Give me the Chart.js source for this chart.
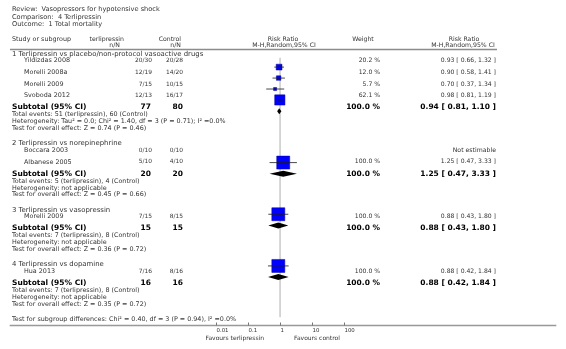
<!DOCTYPE html>
<html>
<head>
<meta charset="utf-8">
<script src="https://cdn.jsdelivr.net/npm/chart.js"></script>
<style>
  html, body { margin: 0; padding: 0; background: #fff; }
</style>
</head>
<body>
<canvas id="forest" width="566" height="349"></canvas>
<script>
// --- data ---
const titleLines = ['Review:  Vasopressors for hypotensive shock', 'Comparison:  4 Terlipressin', 'Outcome:  1 Total mortality'];
const groups = ['1 Terlipressin vs placebo/non-protocol vasoactive drugs', '2 Terlipressin vs norepinephrine', '3 Terlipressin vs vasopressin', '4 Terlipressin vs dopamine'];
const studies = ['Yildizdas 2008', 'Morelli 2008a', 'Morelli 2009', 'Svoboda 2012', 'Boccara 2003', 'Albanese 2005', 'Morelli 2009', 'Hua 2013'];
const studyGroup = [0, 0, 0, 0, 1, 1, 2, 3];
const terliEvents = [20, 12, 7, 12, 0, 5, 7, 7];
const terliTotal = [30, 19, 15, 13, 10, 10, 15, 16];
const ctrlEvents = [20, 14, 10, 16, 0, 4, 8, 8];
const ctrlTotal = [28, 20, 15, 17, 10, 10, 15, 16];
const rr = [0.93, 0.90, 0.70, 0.98, null, 1.25, 0.88, 0.88];
const rrLow = [0.66, 0.58, 0.37, 0.81, null, 0.47, 0.43, 0.42];
const rrHigh = [1.32, 1.41, 1.34, 1.19, null, 3.33, 1.80, 1.84];
const weight = [20.2, 12.0, 5.7, 62.1, null, 100.0, 100.0, 100.0];

const subTerliTotal = [77, 20, 15, 16];
const subCtrlTotal = [80, 20, 15, 16];
const subTerliEvents = [51, 5, 7, 7];
const subCtrlEvents = [60, 4, 8, 8];
const subRR = [0.94, 1.25, 0.88, 0.88];
const subLow = [0.81, 0.47, 0.43, 0.42];
const subHigh = [1.10, 3.33, 1.80, 1.84];
const subWeight = [100.0, 100.0, 100.0, 100.0];
const heterogeneity = ['Tau\u00b2 = 0.0; Chi\u00b2 = 1.40, df = 3 (P = 0.71); I\u00b2 =0.0%', 'not applicable', 'not applicable', 'not applicable'];
const overallEffect = ['Z = 0.74 (P = 0.46)', 'Z = 0.45 (P = 0.66)', 'Z = 0.36 (P = 0.72)', 'Z = 0.35 (P = 0.72)'];
const subgroupTest = 'Test for subgroup differences: Chi\u00b2 = 0.40, df = 3 (P = 0.94), I\u00b2 =0.0%';
const axisTicks = [0.01, 0.1, 1, 10, 100];
const axisTickLabels = ['0.01', '0.1', '1', '10', '100'];
const favours = ['Favours terlipressin', 'Favours control'];

// --- layout ---
const W = 566, H = 349;
const nullPx = 280, decadePx = 33.33;
const axisY = 325.5;
const FONT = '"DejaVu Sans", Verdana, sans-serif';

function layoutRows() {
  const rows = { group: [], study: [], sub: [], notes: [] };
  let y = 54;
  let s = 0;
  for (let g = 0; g < groups.length; g++) {
    rows.group[g] = y;
    y += 6.8;
    let first = true;
    while (s < studies.length && studyGroup[s] === g) {
      if (!first) y += 11.6;
      rows.study[s] = y;
      first = false;
      s++;
    }
    y += 11.8;
    rows.sub[g] = y;
    y += 7.3;
    rows.notes[g] = [y, y + 6.9, y + 13.8];
    y += 13.8 + 15;
  }
  rows.diff = y;
  return rows;
}
const rows = layoutRows();

function fmtCI(v, lo, hi) {
  return v.toFixed(2) + ' [ ' + lo.toFixed(2) + ', ' + hi.toFixed(2) + ' ]';
}

// --- datasets ---
const datasets = [];
// whiskers (top)
studies.forEach((s, i) => {
  if (rr[i] == null) return;
  datasets.push({
    data: [{ x: rrLow[i], y: rows.study[i] }, { x: rrHigh[i], y: rows.study[i] }],
    showLine: true, borderColor: '#1a1a1a', borderWidth: 0.8, pointRadius: 0, order: 0
  });
});
// squares, area ~ weight
const squarePts = [], squareR = [];
studies.forEach((s, i) => {
  if (rr[i] == null) return;
  squarePts.push({ x: rr[i], y: rows.study[i] });
  const side = 13 * Math.sqrt(weight[i] / 100);
  squareR.push(side / Math.SQRT2);
});
datasets.push({
  data: squarePts, pointStyle: 'rect', pointRadius: squareR,
  backgroundColor: '#0000ff', borderColor: '#000090', borderWidth: 0.5, order: 1
});
// line of no effect
datasets.push({
  data: [{ x: 1, y: 51 }, { x: 1, y: axisY }],
  showLine: true, borderColor: '#d0d0d0', borderWidth: 1, pointRadius: 0, order: 2
});

const forestPlugin = {
  id: 'forest',
  afterDatasetsDraw(chart) {
    const ctx = chart.ctx;
    const xs = chart.scales.x, ys = chart.scales.y;
    const px = v => xs.getPixelForValue(v);
    const py = v => ys.getPixelForValue(v);
    ctx.save();

    // diamonds for subtotals
    ctx.fillStyle = '#000';
    subRR.forEach((v, g) => {
      const y = py(rows.sub[g]);
      ctx.beginPath();
      ctx.moveTo(px(subLow[g]), y);
      ctx.lineTo(px(v), y - 3);
      ctx.lineTo(px(subHigh[g]), y);
      ctx.lineTo(px(v), y + 3);
      ctx.closePath();
      ctx.fill();
    });

    // header line
    ctx.strokeStyle = '#8c8c8c';
    ctx.lineWidth = 1.5;
    ctx.beginPath();
    ctx.moveTo(10, 49.5);
    ctx.lineTo(497, 49.5);
    ctx.stroke();

    // axis
    ctx.strokeStyle = '#999';
    ctx.lineWidth = 1.5;
    ctx.beginPath();
    ctx.moveTo(chart.chartArea.left, axisY);
    ctx.lineTo(chart.chartArea.right, axisY);
    ctx.stroke();
    ctx.lineWidth = 1;
    ctx.strokeStyle = '#777';
    ctx.fillStyle = '#333';
    ctx.font = '5.4px ' + FONT;
    ctx.textBaseline = 'middle';
    ctx.textAlign = 'left';
    axisTicks.forEach((t, k) => {
      const x = Math.round(px(t)) + 0.5;
      ctx.beginPath();
      ctx.moveTo(x, axisY - 3);
      ctx.lineTo(x, axisY);
      ctx.stroke();
      ctx.fillText(axisTickLabels[k], x, 331);
    });
    ctx.font = '6px ' + FONT;
    ctx.textAlign = 'right';
    ctx.fillText(favours[0], 264, 338.5);
    ctx.textAlign = 'left';
    ctx.fillText(favours[1], 294, 338.5);

    const text = (str, x, y, align, size, bold, color) => {
      ctx.font = (bold ? 'bold ' : '') + size + 'px ' + FONT;
      ctx.textAlign = align;
      ctx.fillStyle = color || (bold ? '#000' : '#333');
      ctx.fillText(str, x, y);
    };

    // titles
    titleLines.forEach((t, k) => text(t, 12, 9.5 + k * 7.5, 'left', 6.6));

    // column headers
    text('Study or subgroup', 12, 39, 'left', 6.4);
    text('terlipressin', 124, 39, 'right', 6.2);
    text('n/N', 120, 45, 'right', 6.2);
    text('Control', 181, 39, 'right', 6.2);
    text('n/N', 181, 45, 'right', 6.2);
    text('Risk Ratio', 283, 39, 'center', 6.2);
    text('M-H,Random,95% CI', 284, 45, 'center', 6.2);
    text('Weight', 363, 39, 'center', 6.2);
    text('Risk Ratio', 464, 39, 'center', 6.2);
    text('M-H,Random,95% CI', 463, 45, 'center', 6.2);

    // groups
    groups.forEach((g, k) => {
      text(g, 12, rows.group[k], 'left', 6.9);
      const ys0 = rows.sub[k];
      text('Subtotal (95% CI)', 12, ys0, 'left', 7.5, true);
      text(String(subTerliTotal[k]), 151, ys0, 'right', 7.5, true);
      text(String(subCtrlTotal[k]), 183, ys0, 'right', 7.5, true);
      text(subWeight[k].toFixed(1) + ' %', 380, ys0, 'right', 7.5, true);
      text(fmtCI(subRR[k], subLow[k], subHigh[k]), 496, ys0, 'right', 7.5, true);
      const n = rows.notes[k];
      text('Total events: ' + subTerliEvents[k] + ' (terlipressin), ' + subCtrlEvents[k] + ' (Control)', 12, n[0], 'left', 6.4);
      text('Heterogeneity: ' + heterogeneity[k], 12, n[1], 'left', 6.4);
      text('Test for overall effect: ' + overallEffect[k], 12, n[2], 'left', 6.4);
    });

    // studies
    studies.forEach((s, i) => {
      const y = rows.study[i];
      text(s, 24, y, 'left', 6.4);
      text(terliEvents[i] + '/' + terliTotal[i], 152, y, 'right', 5.9);
      text(ctrlEvents[i] + '/' + ctrlTotal[i], 183, y, 'right', 5.9);
      if (rr[i] == null) {
        text('Not estimable', 496, y, 'right', 6.2);
      } else {
        text(weight[i].toFixed(1) + ' %', 380, y, 'right', 6.1);
        text(fmtCI(rr[i], rrLow[i], rrHigh[i]), 496, y, 'right', 6.1);
      }
    });

    text(subgroupTest, 12, rows.diff, 'left', 6.4);
    ctx.restore();
  }
};

new Chart(document.getElementById('forest'), {
  type: 'scatter',
  data: { datasets: datasets },
  options: {
    responsive: false,
    animation: false,
    events: [],
    layout: { padding: 0 },
    plugins: { legend: { display: false }, tooltip: { enabled: false } },
    scales: {
      x: {
        type: 'logarithmic', display: false,
        min: Math.pow(10, -nullPx / decadePx),
        max: Math.pow(10, (W - nullPx) / decadePx)
      },
      y: { type: 'linear', display: false, reverse: true, min: 0, max: H }
    }
  },
  plugins: [forestPlugin]
});
</script>
</body>
</html>
